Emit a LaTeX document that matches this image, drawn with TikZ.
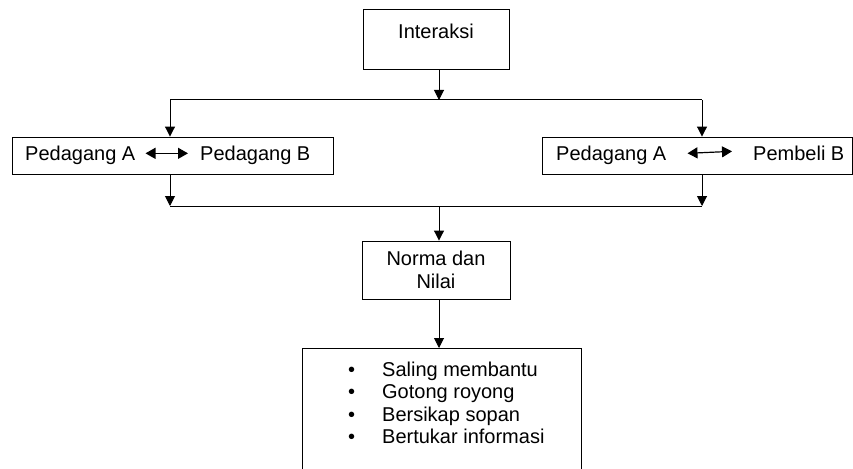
\documentclass[tikz,border=0pt]{standalone}
\usepackage{fontspec}
\setmainfont{Liberation Sans}
\usetikzlibrary{arrows.meta,positioning}

\begin{document}
\begin{tikzpicture}[x=1pt, y=-1pt,
    box/.style={draw, line width=0.9pt, inner sep=0pt, font=\fontsize{20}{23}\selectfont},
    txt/.style={inner sep=0pt, font=\fontsize{20}{22.5}\selectfont},
    flow/.style={-{Triangle[width=10pt,length=10pt]}, line width=1pt},
    link/.style={{Triangle[width=11pt,length=10pt]}-{Triangle[width=11pt,length=10pt]}, line width=1.2pt}
]
\clip (0,0) rectangle (853,468);
\useasboundingbox (0,0) rectangle (853,468);

\node[box, minimum width=146pt, minimum height=60pt, text depth=14.5pt] (interaksi) at (436,39) {Interaksi};

\node[box, minimum width=321pt, minimum height=37pt] (pairone) at (172.5,155.5) {};
\node[txt, anchor=base west] (pdgAone) at (25,160.5) {Pedagang A};
\node[txt, anchor=base west] (pdgBone) at (200,160.5) {Pedagang B};

\node[box, minimum width=310pt, minimum height=37pt] (pairtwo) at (697,155.5) {};
\node[txt, anchor=base west] (pdgAtwo) at (556,160.5) {Pedagang A};
\node[txt, anchor=base west] (pmbBtwo) at (753,160.5) {Pembeli B};

\node[box, minimum width=148pt, minimum height=58pt, align=center] (norma) at (436,270) {Norma dan\\Nilai};

\node[box, minimum width=279pt, minimum height=140pt, anchor=north] (values) at (441.5,348) {};
\node[txt, align=left, anchor=north west] (list) at (348,361.4) {%
    \makebox[34pt][l]{\textbullet}Saling membantu\\
    \makebox[34pt][l]{\textbullet}Gotong royong\\
    \makebox[34pt][l]{\textbullet}Bersikap sopan\\
    \makebox[34pt][l]{\textbullet}Bertukar informasi};

% branch points
\coordinate (tsplit) at (439,100);
\coordinate (tleft) at (170,100);
\coordinate (tright) at (702,100);
\coordinate (bjoin) at (439,206);
\coordinate (bleft) at (170,206);
\coordinate (bright) at (702,206);

\draw[line width=1pt] (tleft) -- (tright);
\draw[flow] (interaksi.south -| tsplit) -- (tsplit);
\draw[flow] (tleft) -- (tleft |- pairone.north);
\draw[flow] (tright) -- (tright |- pairtwo.north);

\draw[link] ([xshift=10pt,yshift=2pt]pdgAone.east) -- ([xshift=-12pt,yshift=2pt]pdgBone.west);
\draw[link] ([xshift=21pt,yshift=2pt]pdgAtwo.east) -- ([xshift=-21pt,yshift=2pt]pmbBtwo.west);

\draw[flow] (pairone.south -| bleft) -- (bleft);
\draw[flow] (pairtwo.south -| bright) -- (bright);
\draw[line width=1pt] (bleft) -- (bright);

\draw[flow] (bjoin) -- (bjoin |- norma.north);
\draw[flow] (norma.south -| bjoin) -- (bjoin |- values.north);
\end{tikzpicture}
\end{document}
